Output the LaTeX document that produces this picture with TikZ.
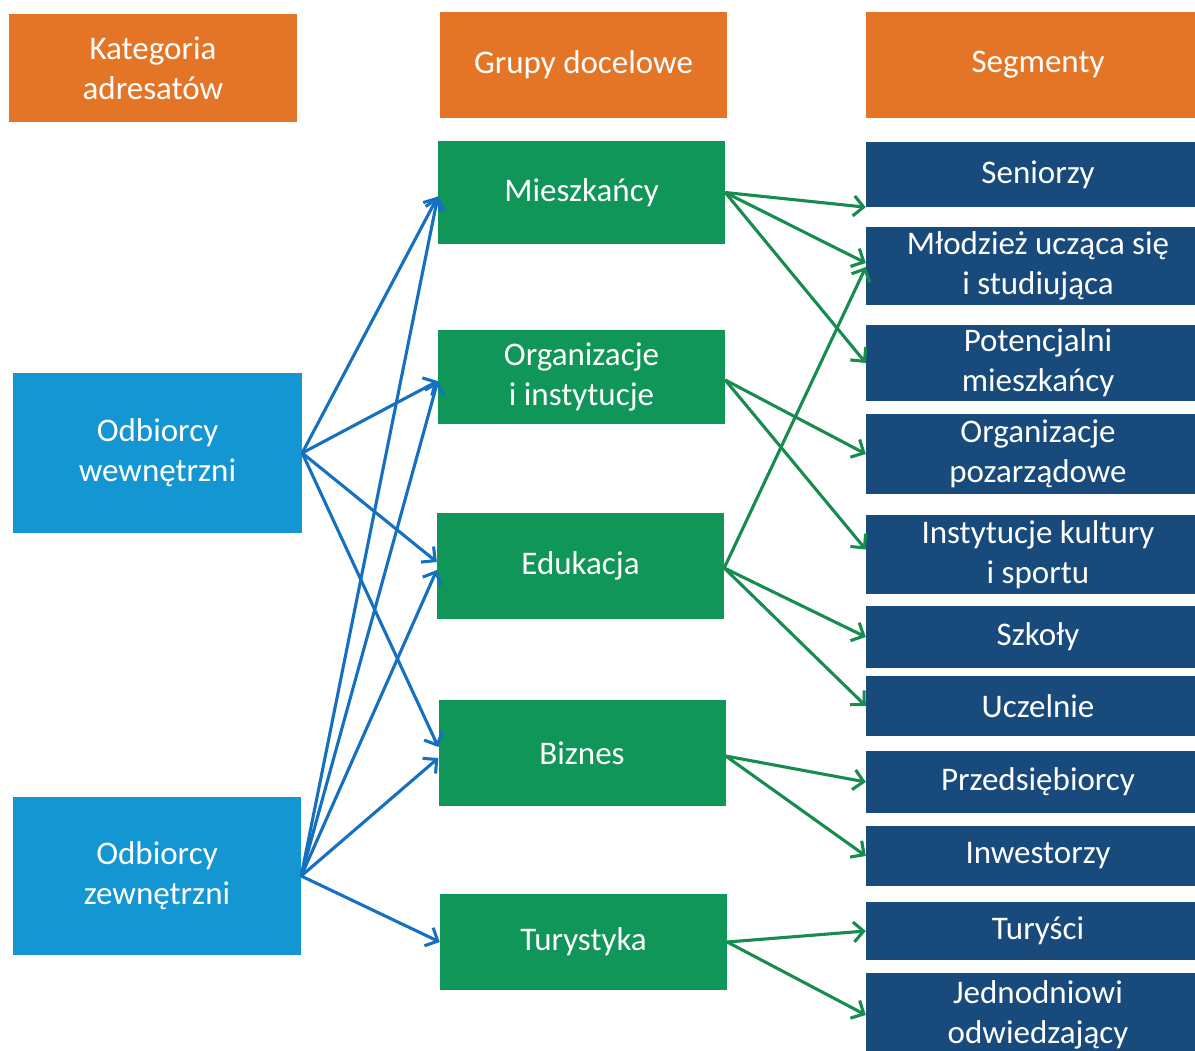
\documentclass[tikz,border=0pt]{standalone}
\usepackage{fontspec}
\setmainfont{Carlito}
\usetikzlibrary{arrows.meta}

\definecolor{hdrorange}{RGB}{229,117,38}
\definecolor{srcblue}{RGB}{20,150,210}
\definecolor{grpgreen}{RGB}{16,150,88}
\definecolor{segnavy}{RGB}{24,74,124}
\definecolor{arrblue}{RGB}{22,112,192}
\definecolor{arrgreen}{RGB}{24,140,78}

\begin{document}
\begin{tikzpicture}[x=1pt,y=-1pt,
  box/.style={draw=none, inner sep=0pt, text=white, align=center,
    font=\fontsize{33}{40}\selectfont},
  hdr/.style={box, fill=hdrorange},
  srcbox/.style={box, fill=srcblue},
  grpbox/.style={box, fill=grpgreen, minimum width=287pt},
  segbox/.style={box, fill=segnavy, minimum width=344pt},
  tip/.style={-{Straight Barb[length=10pt,width=20pt]}},
  barrow/.style={tip, draw=arrblue, line width=3.1pt},
  garrow/.style={tip, draw=arrgreen, line width=3.1pt}]

\useasboundingbox (0,0) rectangle (1195,1051);
\clip (0,0) rectangle (1195,1051);

% column headers
\node[hdr, minimum width=288pt, minimum height=108pt] (hk) at (153,68) {Kategoria\\adresatów};
\node[hdr, minimum width=287pt, minimum height=106pt] (hg) at (583.5,65) {Grupy docelowe};
\node[hdr, minimum width=344pt, minimum height=106pt] (hs) at (1038,65) {Segmenty};

% recipient categories
\node[srcbox, minimum width=289pt, minimum height=160pt] (ow) at (157.5,453) {Odbiorcy\\wewnętrzni};
\node[srcbox, minimum width=288pt, minimum height=158pt] (oz) at (157,876) {Odbiorcy\\zewnętrzni};

% target groups
\node[grpbox, minimum height=103pt] (mie) at (581.5,192.5) {Mieszkańcy};
\node[grpbox, minimum height=94pt]  (org) at (581.5,377) {Organizacje\\i instytucje};
\node[grpbox, minimum height=106pt] (edu) at (580.5,566) {Edukacja};
\node[grpbox, minimum height=106pt] (biz) at (582,753) {Biznes};
\node[grpbox, minimum height=96pt]  (tur) at (583.5,942) {Turystyka};

% segments
\node[segbox, minimum height=65pt] (sen) at (1038,174.5) {Seniorzy};
\node[segbox, minimum height=78pt] (mlo) at (1038,266) {Młodzież ucząca się\\i studiująca};
\node[segbox, minimum height=76pt] (pot) at (1038,363) {Potencjalni\\mieszkańcy};
\node[segbox, minimum height=80pt] (opz) at (1038,454) {Organizacje\\pozarządowe};
\node[segbox, minimum height=79pt] (ins) at (1038,554.5) {Instytucje kultury\\i sportu};
\node[segbox, minimum height=62pt] (szk) at (1038,637) {Szkoły};
\node[segbox, minimum height=60pt] (ucz) at (1038,706) {Uczelnie};
\node[segbox, minimum height=62pt] (prz) at (1038,782) {Przedsiębiorcy};
\node[segbox, minimum height=60pt] (inw) at (1038,856) {Inwestorzy};
\node[segbox, minimum height=58pt] (tus) at (1038,931) {Turyści};
\node[segbox, minimum height=85pt] (jed) at (1038,1015) {Jednodniowi\\odwiedzający};

% categories -> groups
\draw[barrow] (ow.east) -- ([yshift=-4pt]mie.west);
\draw[barrow] (ow.east) -- ([yshift=-4pt]org.west);
\draw[barrow] (ow.east) -- ([yshift=4pt]edu.west);
\draw[barrow] (ow.east) -- ([yshift=6pt]biz.west);
\draw[barrow] (oz.east) -- ([yshift=-4pt]mie.west);
\draw[barrow] (oz.east) -- ([yshift=-4pt]org.west);
\draw[barrow] (oz.east) -- ([yshift=-4pt]edu.west);
\draw[barrow] (oz.east) -- ([yshift=-5pt]biz.west);
\draw[barrow] (oz.east) -- (tur.west);

% groups -> segments
\draw[garrow] (mie.east) -- (sen.south west);
\draw[garrow] (mie.east) -- ([yshift=3pt]mlo.west);
\draw[garrow] (mie.east) -- (pot.west);
\draw[garrow] ([yshift=-3pt]org.east) -- (opz.west);
\draw[garrow] ([yshift=-3pt]org.east) -- ([yshift=5pt]ins.west);
\draw[garrow] ([yshift=-2pt]edu.east) -- ([yshift=-1pt]mlo.west);
\draw[garrow] ([yshift=-2pt]edu.east) -- (szk.west);
\draw[garrow] ([yshift=-2pt]edu.east) -- (ucz.west);
\draw[garrow] ([yshift=-3pt]biz.east) -- (prz.west);
\draw[garrow] ([yshift=-3pt]biz.east) -- (inw.west);
\draw[garrow] (tur.east) -- (tus.west);
\draw[garrow] (tur.east) -- (jed.west);
\end{tikzpicture}
\end{document}
